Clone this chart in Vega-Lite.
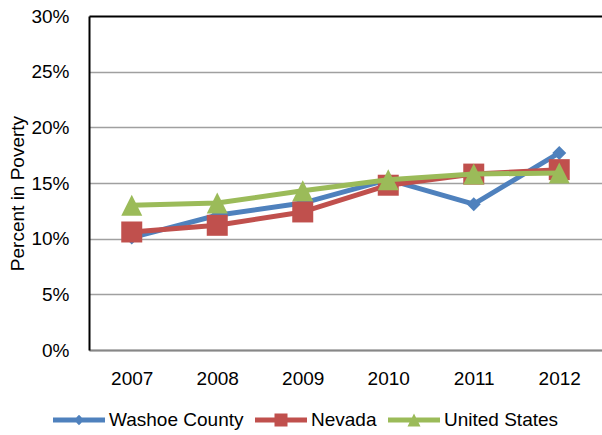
{
  "$schema": "https://vega.github.io/schema/vega-lite/v6.json",
  "width": 513,
  "height": 334,
  "autosize": {"type": "none"},
  "padding": {"left": 89, "top": 16, "right": 0, "bottom": 85},
  "background": "white",
  "config": {
    "view": {"stroke": null},
    "font": "Liberation Sans",
    "axis": {"labelFont": "Liberation Sans", "titleFont": "Liberation Sans", "labelColor": "#000000", "titleColor": "#000000", "labelFontSize": 19, "titleFontSize": 19, "titleFontWeight": "normal"}
  },
  "data": {
    "values": [
      {"year": "2007", "series": "Washoe County", "pct": 0.101},
      {"year": "2008", "series": "Washoe County", "pct": 0.121},
      {"year": "2009", "series": "Washoe County", "pct": 0.132},
      {"year": "2010", "series": "Washoe County", "pct": 0.153},
      {"year": "2011", "series": "Washoe County", "pct": 0.131},
      {"year": "2012", "series": "Washoe County", "pct": 0.177},
      {"year": "2007", "series": "Nevada", "pct": 0.106},
      {"year": "2008", "series": "Nevada", "pct": 0.112},
      {"year": "2009", "series": "Nevada", "pct": 0.124},
      {"year": "2010", "series": "Nevada", "pct": 0.148},
      {"year": "2011", "series": "Nevada", "pct": 0.158},
      {"year": "2012", "series": "Nevada", "pct": 0.162},
      {"year": "2007", "series": "United States", "pct": 0.130},
      {"year": "2008", "series": "United States", "pct": 0.132},
      {"year": "2009", "series": "United States", "pct": 0.143},
      {"year": "2010", "series": "United States", "pct": 0.153},
      {"year": "2011", "series": "United States", "pct": 0.158},
      {"year": "2012", "series": "United States", "pct": 0.159}
    ]
  },
  "encoding": {
    "x": {
      "field": "year", "type": "ordinal",
      "scale": {"type": "point", "padding": 0.5},
      "axis": {"title": null, "labelAngle": 0, "ticks": false, "labelPadding": 19, "domainColor": "#878787", "domainWidth": 2, "grid": false}
    },
    "y": {
      "field": "pct", "type": "quantitative",
      "scale": {"domain": [0, 0.3], "nice": false, "zero": true},
      "axis": {
        "title": "Percent  in Poverty",
        "format": ".0%",
        "values": [0, 0.05, 0.1, 0.15, 0.2, 0.25, 0.3],
        "ticks": false,
        "labelPadding": 20,
        "domainColor": "#000000",
        "domainWidth": 2,
        "grid": true,
        "gridColor": {"condition": {"test": "datum.value >= 0.299", "value": "#000000"}, "value": "#a0a0a0"},
        "gridWidth": {"condition": {"test": "datum.value >= 0.299", "value": 2}, "value": 1.5},
        "gridOpacity": 1,
        "titleAngle": 270,
        "titleAlign": "center",
        "titleBaseline": "middle",
        "titleX": -72,
        "titleY": 177
      }
    }
  },
  "layer": [
    {
      "transform": [{"filter": "datum.series === 'Washoe County'"}],
      "mark": {"type": "line", "color": "#4F81BD", "strokeWidth": 5, "strokeJoin": "round", "strokeCap": "round"},
      "encoding": {}
    },
    {
      "transform": [{"filter": "datum.series === 'Washoe County'"}],
      "mark": {"type": "point", "filled": true, "opacity": 1, "color": "#4F81BD", "shape": "diamond", "size": 196}
    },
    {
      "transform": [{"filter": "datum.series === 'Nevada'"}],
      "mark": {"type": "line", "color": "#C0504D", "strokeWidth": 5, "strokeJoin": "round", "strokeCap": "round"},
      "encoding": {}
    },
    {
      "transform": [{"filter": "datum.series === 'Nevada'"}],
      "mark": {"type": "point", "filled": true, "opacity": 1, "color": "#C0504D", "shape": "square", "size": 441}
    },
    {
      "transform": [{"filter": "datum.series === 'United States'"}],
      "mark": {"type": "line", "color": "#9BBB59", "strokeWidth": 5, "strokeJoin": "round", "strokeCap": "round"},
      "encoding": {}
    },
    {
      "transform": [{"filter": "datum.series === 'United States'"}],
      "mark": {"type": "point", "filled": true, "opacity": 1, "color": "#9BBB59", "shape": "M0,-1L1,1L-1,1Z", "size": 441}
    },
    {
      "mark": {"type": "point", "filled": true, "opacity": 0},
      "encoding": {
        "color": {
          "field": "series", "type": "nominal",
          "scale": {"domain": ["Washoe County", "Nevada", "United States"], "range": ["#4F81BD", "#C0504D", "#9BBB59"]},
          "legend": {
            "title": null,
            "orient": "none",
            "direction": "horizontal",
            "legendX": -36,
            "legendY": 378,
            "padding": 0,
            "columnPadding": 11,
            "labelOffset": 4,
            "labelFont": "Liberation Sans",
            "labelFontSize": 19,
            "labelColor": "#000000",
            "symbolSize": 2704,
            "symbolOpacity": 1,
            "symbolStrokeWidth": 0
          }
        },
        "shape": {
          "field": "series", "type": "nominal",
          "scale": {"domain": ["Washoe County", "Nevada", "United States"], "range": [
            "M-1,-0.096H1V0.096H-1Z M0,-0.2L0.2,0L0,0.2L-0.2,0Z",
            "M-1,-0.096H1V0.096H-1Z M-0.25,-0.25H0.25V0.25H-0.25Z",
            "M-1,-0.096H1V0.096H-1Z M0,-0.25L0.25,0.25H-0.25Z"
          ]},
          "legend": {
            "title": null,
            "orient": "none",
            "direction": "horizontal",
            "legendX": -36,
            "legendY": 378,
            "padding": 0,
            "columnPadding": 11,
            "labelOffset": 4,
            "labelFont": "Liberation Sans",
            "labelFontSize": 19,
            "labelColor": "#000000",
            "symbolSize": 2704,
            "symbolOpacity": 1,
            "symbolStrokeWidth": 0
          }
        }
      }
    }
  ]
}
